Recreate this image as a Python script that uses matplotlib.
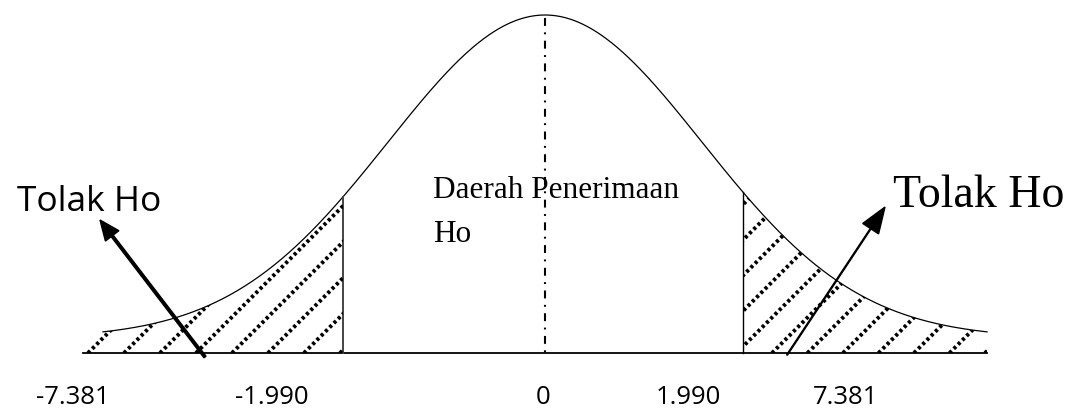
import numpy as np
import matplotlib
matplotlib.use("Agg")
import matplotlib.pyplot as plt
from matplotlib.patches import Polygon

# labels under the axis and the notes on the picture
tick_labels = ["-7.381", "-1.990", "0", "1.990", "7.381"]
left_note = "Tolak Ho"
right_note = "Tolak Ho"
middle_note = ["Daerah Penerimaan", "Ho"]

# curve shape (pixel units of the drawing)
center = 545
baseline = 353
peak_height = 323
floor_height = 15
spread = 157

fig = plt.figure(figsize=(10.85, 4.12), dpi=100)
ax = fig.add_axes([0, 0, 1, 1])
ax.set_xlim(0, 1085)
ax.set_ylim(412, 0)
ax.axis("off")


def curve(x):
    return baseline - (peak_height * np.exp(-(x - center) ** 2 / (2 * spread ** 2)) + floor_height)


left_cut, right_cut = 343, 743
x_start, x_end = 103, 987

# the bell curve and the axis line
xs = np.linspace(x_start, x_end, 600)
ax.plot(xs, curve(xs), color="black", lw=0.9)
ax.plot([83, 987], [baseline, baseline], color="black", lw=1.3)

# critical lines
ax.plot([left_cut, left_cut], [baseline, curve(left_cut)], color="#444444", lw=1.4)
ax.plot([right_cut, right_cut], [baseline, curve(right_cut)], color="black", lw=1.0)

# center dash-dot line
ax.plot([center, center], [18, baseline], color="black", lw=1.5,
        linestyle=(0, (3.8, 3.1, 0.9, 3.1)))

# hatched tails
def tail_poly(x0, x1):
    xx = np.linspace(x0, x1, 200)
    pts = [(x0, baseline)] + list(zip(xx, curve(xx))) + [(x1, baseline)]
    return Polygon(pts, closed=True, facecolor="none", edgecolor="none")


for (x0, x1, first, step) in [(83, left_cut, 88, 36), (right_cut, x_end, 772, 35.5)]:
    poly = tail_poly(x0, x1)
    ax.add_patch(poly)
    k = first - 10 * step
    while k < x1 + 10:
        line, = ax.plot([k, k + 200], [baseline, baseline - 200], color="black",
                        lw=2.8, linestyle=(0, (0.8, 0.75)), solid_capstyle="butt",
                        dash_capstyle="butt")
        line.set_clip_path(poly)
        k += step

# arrows
ax.arrow(205, 357, 100 - 205, 220 - 357, width=2.6, head_width=17, head_length=20,
         length_includes_head=True, color="black")
ax.arrow(787, 355, 885 - 787, 207 - 355, width=0.9, head_width=19, head_length=26,
         length_includes_head=True, color="black")

# text
ax.text(17, 211, left_note, fontsize=25.5, family="Open Sans", va="baseline", ha="left")
ax.text(893, 207, right_note, fontsize=33, family="Liberation Serif", va="baseline", ha="left")
ax.text(433, 198, middle_note[0], fontsize=22.5, family="Liberation Serif", va="baseline", ha="left")
ax.text(433, 242, middle_note[1], fontsize=22.5, family="Liberation Serif", va="baseline", ha="left")

tick_pos = [73, 272, 543, 688, 846]
for lab, xp in zip(tick_labels, tick_pos):
    ax.text(xp, 398, lab, fontsize=18.5, family="Open Sans", ha="center", va="center")

fig.savefig("out.png", dpi=100)
